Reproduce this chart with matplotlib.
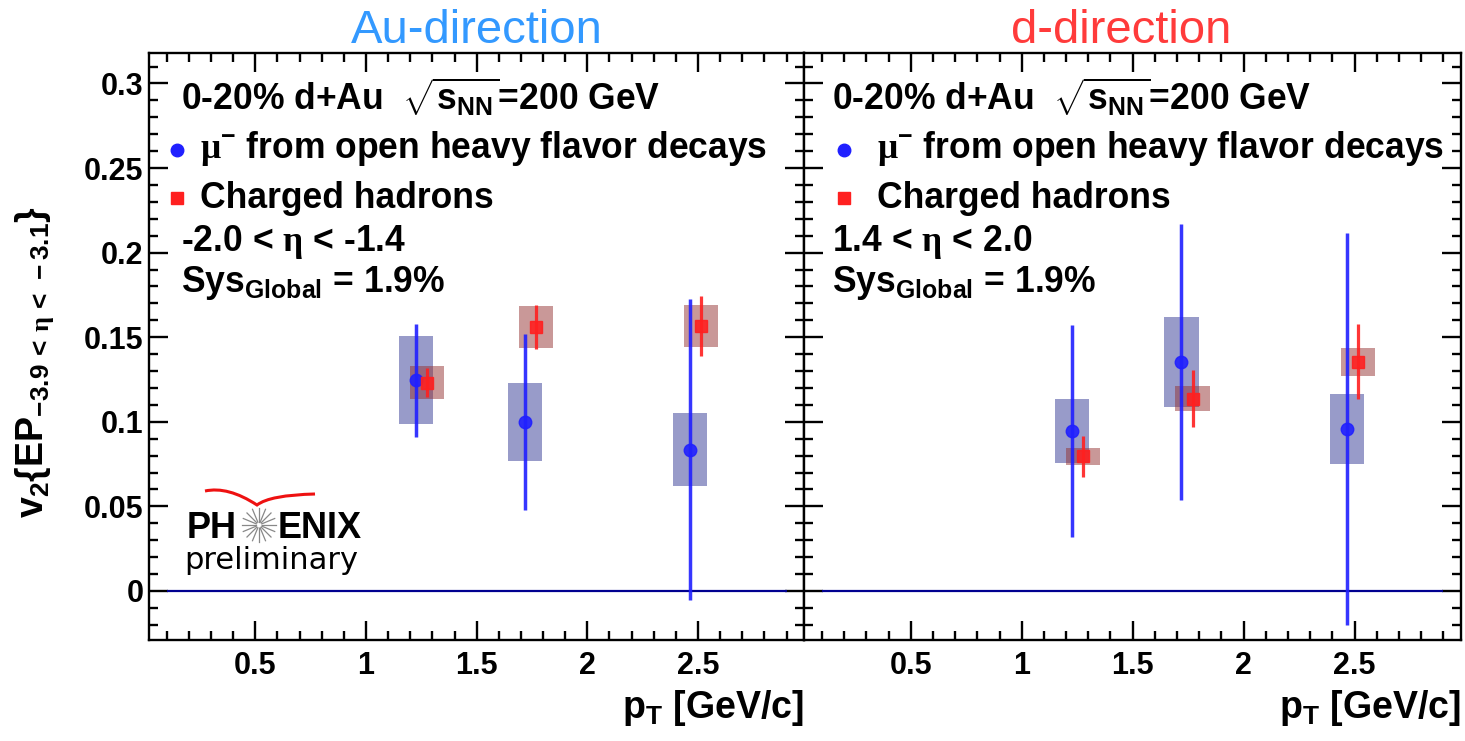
import numpy as np
import matplotlib
matplotlib.use('Agg')
import matplotlib.pyplot as plt
from matplotlib.patches import Rectangle, PathPatch
from matplotlib.path import Path
from matplotlib.lines import Line2D
from matplotlib.ticker import MultipleLocator, FuncFormatter

plt.rcParams['font.family'] = ['Liberation Sans', 'DejaVu Sans']
plt.rcParams['font.weight'] = 'bold'
plt.rcParams['mathtext.fontset'] = 'custom'
plt.rcParams['mathtext.rm'] = 'Liberation Sans:bold'
plt.rcParams['mathtext.it'] = 'Liberation Sans:bold'
plt.rcParams['mathtext.bf'] = 'Liberation Sans:bold'
plt.rcParams['mathtext.sf'] = 'Liberation Serif'

# pT of the points (muons drawn slightly left, hadrons slightly right)
pt_mu = [1.225, 1.72, 2.465]
pt_h = [1.275, 1.77, 2.515]
box_hw = 0.077

# Au-going direction
v2_mu_au = [0.1245, 0.0999, 0.0836]
stat_mu_au = [0.0335, 0.0522, 0.0889]
sys_mu_au = [0.0260, 0.0230, 0.0215]
v2_h_au = [0.1232, 0.1560, 0.1566]
stat_h_au = [0.0088, 0.0131, 0.0178]
sys_h_au = [0.0097, 0.0124, 0.0124]

# d-going direction
v2_mu_d = [0.0946, 0.1353, 0.0958]
stat_mu_d = [0.0626, 0.0815, 0.1160]
sys_mu_d = [0.0191, 0.0265, 0.0207]
v2_h_d = [0.0795, 0.1137, 0.1354]
stat_h_d = [0.0119, 0.0167, 0.0222]
sys_h_d = [0.0051, 0.0073, 0.0085]

W, H = 1465, 741
fig = plt.figure(figsize=(W / 100, H / 100), dpi=100)


def px(x, y):
    return x / W, 1 - y / H


ax1 = fig.add_axes([149 / W, (H - 639.5) / H, 655.3 / W, 586.5 / H])
ax2 = fig.add_axes([804.3 / W, (H - 639.5) / H, 656.7 / W, 586.5 / H])

blue = '#2020ff'
red = '#ff2020'
fmt = FuncFormatter(lambda v, p: '%g' % round(v, 3))


def draw_panel(ax, v2m, stm, sym, v2h, sth, syh):
    for x, y, s in zip(pt_mu, v2m, sym):
        ax.add_patch(Rectangle((x - box_hw, y - s), 2 * box_hw, 2 * s,
                               facecolor=(0.2, 0.22, 0.58), alpha=0.5, lw=0))
    for x, y, s in zip(pt_h, v2h, syh):
        ax.add_patch(Rectangle((x - box_hw, y - s), 2 * box_hw, 2 * s,
                               facecolor=(0.58, 0.2, 0.2), alpha=0.5, lw=0))
    ax.hlines(0, 0.1, 2.9, color='#000090', lw=1.6, zorder=2)
    ax.errorbar(pt_mu, v2m, yerr=stm, fmt='o', color=blue, ms=9,
                elinewidth=2.5, capsize=0, alpha=0.9, zorder=3)
    ax.errorbar(pt_h, v2h, yerr=sth, fmt='s', color=red, ms=8.8,
                elinewidth=2.3, capsize=0, alpha=0.9, zorder=4)

    ax.set_xlim(0.02, 2.98)
    ax.set_ylim(-0.0287, 0.318)
    ax.xaxis.set_major_locator(MultipleLocator(0.5))
    ax.xaxis.set_minor_locator(MultipleLocator(0.1))
    ax.yaxis.set_major_locator(MultipleLocator(0.05))
    ax.yaxis.set_minor_locator(MultipleLocator(0.01))
    ax.xaxis.set_major_formatter(fmt)
    ax.yaxis.set_major_formatter(fmt)
    ax.tick_params(which='both', direction='in', top=True, right=True,
                   width=1.7, labelsize=22)
    ax.tick_params(which='major', length=13.5)
    ax.tick_params(which='minor', length=6.5)
    ax.tick_params(axis='x', pad=8)
    ax.tick_params(axis='y', pad=4)
    for sp in ax.spines.values():
        sp.set_linewidth(1.7)


draw_panel(ax1, v2_mu_au, stat_mu_au, sys_mu_au, v2_h_au, stat_h_au, sys_h_au)
draw_panel(ax2, v2_mu_d, stat_mu_d, sys_mu_d, v2_h_d, stat_h_d, sys_h_d)
ax2.tick_params(labelleft=False)

# panel titles
fig.text(*px(477, 43), 'Au-direction', ha='center', va='baseline',
         fontsize=34, fontweight='normal', color='#3399ff')
fig.text(*px(1121, 43), 'd-direction', ha='center', va='baseline',
         fontsize=34, fontweight='normal', color='#ff3b3b')

# text blocks inside the panels
fs = 25.6
blocks = [
    (181, 177, 200, r'-2.0 < $\mathsf{\eta}$ < -1.4'),
    (832, 844, 877, r'1.4 < $\mathsf{\eta}$ < 2.0'),
]
for x0, xm, xt, eta in blocks:
    fig.text(*px(x0, 110), r'0-20% d+Au  $\sqrt{s_{NN}}$=200 GeV',
             fontsize=fs, va='baseline')
    fig.text(*px(xt, 158), r'$\mathsf{\mu}^{-}$ from open heavy flavor decays',
             fontsize=fs, va='baseline')
    fig.text(*px(xt, 208), 'Charged hadrons', fontsize=fs, va='baseline')
    fig.text(*px(x0, 251), eta, fontsize=fs, va='baseline')
    fig.text(*px(x0, 292), r'Sys$_{Global}$ = 1.9%', fontsize=fs, va='baseline')
    mx, my = px(xm, 150)
    fig.add_artist(Line2D([mx], [my], marker='o', color=blue, ms=9,
                          transform=fig.transFigure))
    mx, my = px(xm, 198)
    fig.add_artist(Line2D([mx], [my], marker='s', color=red, ms=8.8,
                          transform=fig.transFigure))

# axis titles
fig.text(*px(35, 362), r'v$_2${EP$_{-3.9\,<\,\mathsf{\eta}\,<\,-3.1}$}',
         rotation=90, ha='center', va='center', fontsize=27)
for xr in (804, 1461):
    fig.text(*px(xr, 718), r'p$_T$ [GeV/c]', ha='right', va='baseline',
             fontsize=27)

# PHENIX preliminary logo
fig.text(*px(187, 538), 'PH', fontsize=26, va='baseline')
fig.text(*px(278, 538), 'ENIX', fontsize=26, va='baseline')
fig.text(*px(184, 569), 'preliminary', fontsize=22, va='baseline',
         fontweight='normal', family='DejaVu Sans')
cx, cy = 259, 525
for a in np.linspace(0, 2 * np.pi, 16, endpoint=False):
    p0 = px(cx + 3 * np.cos(a), cy + 3 * np.sin(a))
    p1 = px(cx + 17 * np.cos(a), cy + 17 * np.sin(a))
    fig.add_artist(Line2D([p0[0], p1[0]], [p0[1], p1[1]], color='#888888',
                          lw=0.9, transform=fig.transFigure))
swoosh = Path([px(205, 491), px(228, 486), px(257, 505),
               px(270, 495), px(315, 494)],
              [Path.MOVETO, Path.CURVE3, Path.CURVE3, Path.CURVE3, Path.CURVE3])
fig.add_artist(PathPatch(swoosh, facecolor='none', edgecolor='#ee1111', lw=2.2,
                         transform=fig.transFigure))

fig.savefig('out.png', dpi=100)
